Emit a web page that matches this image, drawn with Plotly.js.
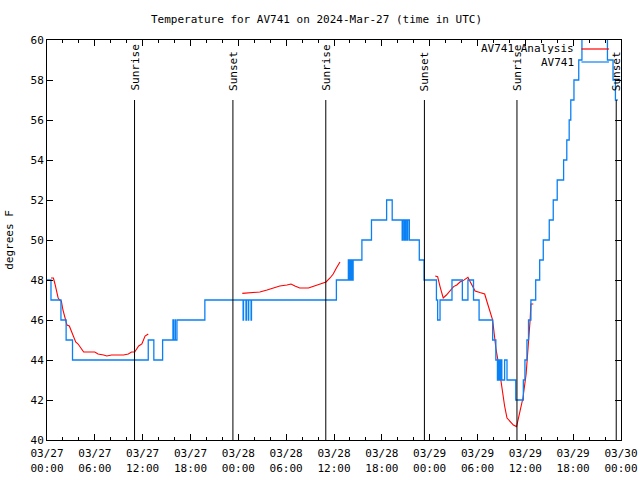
<!DOCTYPE html>
<html>
<head>
<meta charset="utf-8">
<script src="https://cdn.plot.ly/plotly-3.0.1.min.js"></script>
<style>html,body{margin:0;padding:0;background:#fff;}#chart{width:640px;height:480px;}</style>
</head>
<body>
<div id="chart"></div>
<script>
// Hours since 2024-03-27 00:00 UTC
var blueName = 'AV741';
var blueT = [0,0.5,1.75,2.4,3.2,12.7,13.4,14.5,
  15.8,15.85,16.05,16.1,16.3,
  19.8,
  24.6,24.65,24.96,25.01,25.25,25.3,25.6,25.65,
  36.3,
  37.8,37.85,38.0,38.05,38.2,38.25,38.4,
  39.5,40.7,42.6,43.3,
  44.55,44.6,44.77,44.82,44.98,45.03,45.2,45.25,45.45,
  46.7,47.3,48.85,49.0,49.3,50.8,52.1,52.8,53.5,54.2,55.9,56.3,
  56.5,56.6,56.65,56.8,56.85,57.0,57.05,57.4,57.7,
  58.8,59.75,59.95,60.2,60.4,60.7,61.3,61.8,62.25,63.0,63.5,64.0,64.8,65.2,65.5,65.7,66.1,66.7,67.1,70.3,71.0,71.3,71.6];
var blueV = [48,47,46,45,44,45,44,45,
  46,45,46,45,46,
  47,
  46,47,46,47,46,47,46,47,
  48,
  49,48,49,48,49,48,49,
  50,51,52,51,
  50,51,50,51,50,51,50,51,50,
  49,48,47,46,47,48,47,48,47,46,45,44,
  43,44,43,44,43,44,43,44,43,
  42,43,44,45,46,47,48,49,50,51,52,53,54,55,56,57,58,59,61,59,58,57,57];

var redName = 'AV741 Analysis';
var redT = [0.5,0.8,1.0,1.2,1.4,1.6,1.8,2.0,2.3,2.5,2.8,3.1,3.3,3.6,3.9,4.2,4.6,6.0,6.4,7.1,7.5,8.1,9.6,10.2,10.6,11.0,11.5,11.9,12.3,12.7,
  18,
  24.5,26.1,26.7,27.6,28.4,29.2,30.1,30.6,31.1,31.7,32.8,33.6,34.5,35.0,35.5,35.9,36.3,36.75,
  42,
  48.7,49.0,49.3,49.7,50.1,50.6,51.0,51.4,51.8,52.2,52.8,53.1,53.5,53.7,54.3,54.9,55.2,55.6,55.9,56.1,56.3,56.6,56.8,57.0,57.2,57.4,57.7,58.1,58.5,58.9,59.1,59.4,59.7,60.1,60.4,60.6,60.7,61.0];
var redV = [48.1,48.1,47.8,47.5,47.1,47.0,46.95,46.5,46.1,45.75,45.7,45.4,45.1,44.9,44.8,44.6,44.4,44.4,44.3,44.25,44.2,44.25,44.25,44.3,44.4,44.4,44.7,44.8,45.2,45.3,
  null,
  47.33,47.37,47.4,47.5,47.6,47.7,47.75,47.8,47.7,47.6,47.6,47.7,47.8,47.9,48.1,48.3,48.6,48.9,
  null,
  48.2,48.17,47.67,47.1,47.25,47.5,47.67,47.75,47.9,47.97,48.13,47.9,47.6,47.45,47.37,47.3,46.9,46.4,46.0,45.3,44.6,43.9,43.3,42.8,42.25,41.7,41.1,40.9,40.75,40.67,41.0,41.5,42.1,43.3,44.8,46.0,46.8,46.8];

var sunLabels = ['Sunrise','Sunset','Sunrise','Sunset','Sunrise','Sunset'];
var sunTimes = [10.98,23.32,34.97,47.34,58.95,71.4];
var sunLineTop = 57;

var xTickVals = [0,6,12,18,24,30,36,42,48,54,60,66,72];
var xTickText = ['03/27<br>00:00','03/27<br>06:00','03/27<br>12:00','03/27<br>18:00','03/28<br>00:00','03/28<br>06:00','03/28<br>12:00','03/28<br>18:00','03/29<br>00:00','03/29<br>06:00','03/29<br>12:00','03/29<br>18:00','03/30<br>00:00'];

var FONT = 'DejaVu Sans Mono, Liberation Mono, monospace';
var BLUE = '#0a80f5';
var RED = '#ff0000';

var traces = [
  {x: redT, y: redV, type: 'scatter', mode: 'lines', name: redName, line: {color: RED, width: 1.1}, connectgaps: false, showlegend: false},
  {x: blueT, y: blueV, type: 'scatter', mode: 'lines', name: blueName, line: {color: BLUE, width: 1.3, shape: 'hv'}, showlegend: false}
];

var shapes = [];
var annotations = [];
for (var i = 0; i < sunTimes.length; i++) {
  shapes.push({type: 'line', xref: 'x', yref: 'y', x0: sunTimes[i], x1: sunTimes[i], y0: 40, y1: sunLineTop, line: {color: '#000', width: 1}});
  annotations.push({xref: 'x', yref: 'y', x: sunTimes[i], y: sunLineTop, text: sunLabels[i], textangle: -90, showarrow: false,
    xanchor: 'center', yanchor: 'bottom', yshift: 7, font: {family: FONT, size: 11, color: '#000'}});
}
// legend (gnuplot style: text left, sample right)
var legendItems = [{name: redName, color: RED, y: 0.9775}, {name: blueName, color: BLUE, y: 0.945}];
legendItems.forEach(function (it) {
  annotations.push({xref: 'paper', yref: 'paper', x: 0.921, y: it.y, text: it.name, showarrow: false, xanchor: 'right', yanchor: 'middle',
    font: {family: FONT, size: 11, color: '#000'}});
  shapes.push({type: 'line', xref: 'paper', yref: 'paper', x0: 0.931, x1: 0.979, y0: it.y, y1: it.y, line: {color: it.color, width: 1.2}});
});

var layout = {
  width: 640, height: 480,
  margin: {l: 47, r: 19, t: 40, b: 40, pad: 0},
  paper_bgcolor: '#fff', plot_bgcolor: '#fff',
  font: {family: FONT, size: 11, color: '#000'},
  title: {text: 'Temperature for AV741 on 2024-Mar-27 (time in UTC)', x: 0.4945, xref: 'container', xanchor: 'center', y: 0.96, yref: 'container', yanchor: 'middle', font: {family: FONT, size: 11, color: '#000'}},
  xaxis: {range: [0, 72], tickmode: 'array', tickvals: xTickVals, ticktext: xTickText, ticks: 'inside', ticklen: 6, tickcolor: '#000',
    showline: true, linecolor: '#000', linewidth: 1, mirror: 'ticks', showgrid: false, zeroline: false,
    ticklabelstandoff: 3,
    minor: {dtick: 2, tick0: 0, ticks: 'inside', ticklen: 3, tickcolor: '#000', showgrid: false},
    tickfont: {family: FONT, size: 11, color: '#000'}, fixedrange: true},
  yaxis: {range: [40, 60], dtick: 2, tick0: 40, ticks: 'inside', ticklen: 6, tickcolor: '#000',
    showline: true, linecolor: '#000', linewidth: 1, mirror: 'ticks', showgrid: false, zeroline: false,
    tickfont: {family: FONT, size: 11, color: '#000'},
    title: {text: 'degrees F', standoff: 14, font: {family: FONT, size: 11, color: '#000'}}, fixedrange: true},
  shapes: shapes,
  annotations: annotations,
  showlegend: false
};

Plotly.newPlot('chart', traces, layout, {staticPlot: true, displayModeBar: false});
</script>
</body>
</html>
